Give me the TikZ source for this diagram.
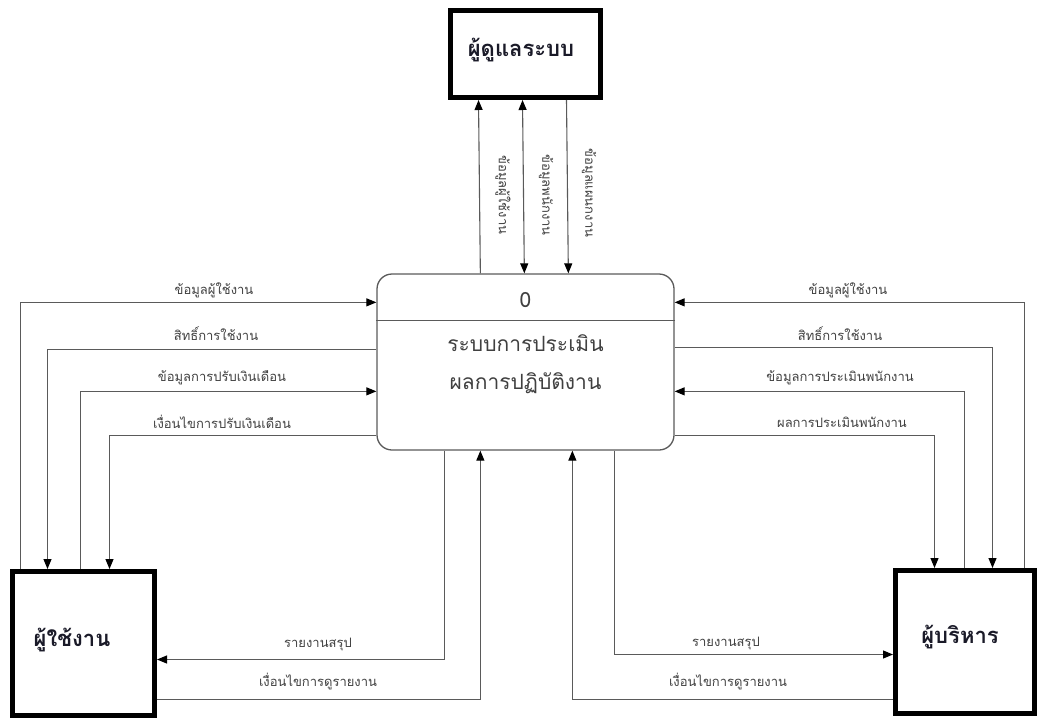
\documentclass[tikz,border=0pt]{standalone}
\usepackage{fontspec}
\newfontfamily\thai[Script=Thai]{Loma}
\usetikzlibrary{arrows.meta,calc}
\definecolor{linegray}{HTML}{5A5A5A}
\definecolor{textgray}{HTML}{404040}
\definecolor{ink}{HTML}{1A1A28}
\tikzset{
  entity/.style={draw=black, line width=5pt, fill=white, inner sep=0pt},
  entitytext/.style={font=\thai\bfseries\fontsize{22}{26}\selectfont, text=ink, inner sep=0pt},
  proc/.style={draw=linegray, line width=1.3pt, rounded corners=15pt, fill=white,
    minimum width=297pt, minimum height=176pt, inner sep=0pt},
  flow/.style={draw=linegray, line width=1.1pt},
  tip/.style={-{Triangle[length=10pt,width=8pt,color=black]}},
  bitip/.style={{Triangle[length=10pt,width=8pt,color=black]}-{Triangle[length=10pt,width=8pt,color=black]}},
  lbl/.style={font=\thai\fontsize{13}{15}\selectfont, text=textgray, inner sep=0pt},
  ptext/.style={font=\thai\fontsize{21}{38}\selectfont, text=textgray, align=center, inner sep=0pt}
}
\begin{document}
\begin{tikzpicture}[x=1pt,y=-1pt]
\useasboundingbox (0,0) rectangle (1041,720);

% external entities and the process
\node[entity, minimum width=150pt, minimum height=87pt] (admin) at (525.5,54) {};
\node[entity, minimum width=142pt, minimum height=144pt] (user) at (83.5,643.5) {};
\node[entity, minimum width=139pt, minimum height=143pt] (exec) at (965,642) {};
\node[entitytext] (admintxt) at (521,50) {ผู้ดูแลระบบ};
\node[entitytext] (usertxt) at (72,640) {ผู้ใช้งาน};
\node[entitytext] (exectxt) at (960,637) {ผู้บริหาร};
\node[proc] (proc) at (525.5,362) {};
\draw[linegray, line width=1.2pt] ($(proc.north west)+(0,47)$) -- ($(proc.north east)+(0,47)$);
\node[ptext] (pid) at (525.5,300) {0};
\node[ptext] (pname) at (525.5,364) {ระบบการประเมิน\\ผลการปฏิบัติงาน};

% flows between process and system administrator
\draw[flow,tip] ($(proc.north west)+(104,0)$) -- ($(admin.south west)+(30.5,0)$);
\draw[flow,bitip] ($(proc.north west)+(148,0)$) -- ($(admin.south west)+(74.5,0)$);
\draw[flow,tip] ($(admin.south west)+(118.5,0)$) -- ($(proc.north west)+(192,0)$);
\node[lbl, rotate=-90] (t1) at (503,195) {ข้อมูลผู้ใช้งาน};
\node[lbl, rotate=-90] (t2) at (546,195) {ข้อมูลพนักงาน};
\node[lbl, rotate=-90] (t3) at (589,193) {ข้อมูลแผนกงาน};

% flows between process and user
\draw[flow,tip] ($(user.north west)+(10.5,0)$) |- ($(proc.north west)+(0,29)$);
\draw[flow,tip] ($(proc.north west)+(0,76)$) -| ($(user.north west)+(37.5,0)$);
\draw[flow,tip] ($(user.north west)+(70.5,0)$) |- ($(proc.north west)+(0,118)$);
\draw[flow,tip] ($(proc.north west)+(0,162)$) -| ($(user.north west)+(99.5,0)$);
\node[lbl] (l1) at (214,290) {ข้อมูลผู้ใช้งาน};
\node[lbl] (l2) at (216,334) {สิทธิ์การใช้งาน};
\node[lbl] (l3) at (222,378) {ข้อมูลการปรับเงินเดือน};
\node[lbl] (l4) at (222,422) {เงื่อนไขการปรับเงินเดือน};

% flows between process and executive
\draw[flow,tip] ($(exec.north west)+(131.5,0)$) |- ($(proc.north east)+(0,29)$);
\draw[flow,tip] ($(proc.north east)+(0,74)$) -| ($(exec.north west)+(99.5,0)$);
\draw[flow,tip] ($(exec.north west)+(71.5,0)$) |- ($(proc.north east)+(0,118)$);
\draw[flow,tip] ($(proc.north east)+(0,162)$) -| ($(exec.north west)+(41.5,0)$);
\node[lbl] (r1) at (848,290) {ข้อมูลผู้ใช้งาน};
\node[lbl] (r2) at (840,334) {สิทธิ์การใช้งาน};
\node[lbl] (r3) at (840,378) {ข้อมูลการประเมินพนักงาน};
\node[lbl] (r4) at (842,422) {ผลการประเมินพนักงาน};

% report flows below the process
\draw[flow,tip] ($(proc.south west)+(68,0)$) |- ($(user.north east)+(0,90.5)$);
\draw[flow,tip] ($(user.north east)+(0,130.5)$) -| ($(proc.south west)+(104,0)$);
\draw[flow,tip] ($(proc.south west)+(238,0)$) |- ($(exec.north west)+(0,86.5)$);
\draw[flow,tip] ($(exec.north west)+(0,131.5)$) -| ($(proc.south west)+(196,0)$);
\node[lbl] (b1) at (318,644) {รายงานสรุป};
\node[lbl] (b2) at (318,682) {เงื่อนไขการดูรายงาน};
\node[lbl] (b3) at (726,643) {รายงานสรุป};
\node[lbl] (b4) at (728,682) {เงื่อนไขการดูรายงาน};
\end{tikzpicture}
\end{document}
